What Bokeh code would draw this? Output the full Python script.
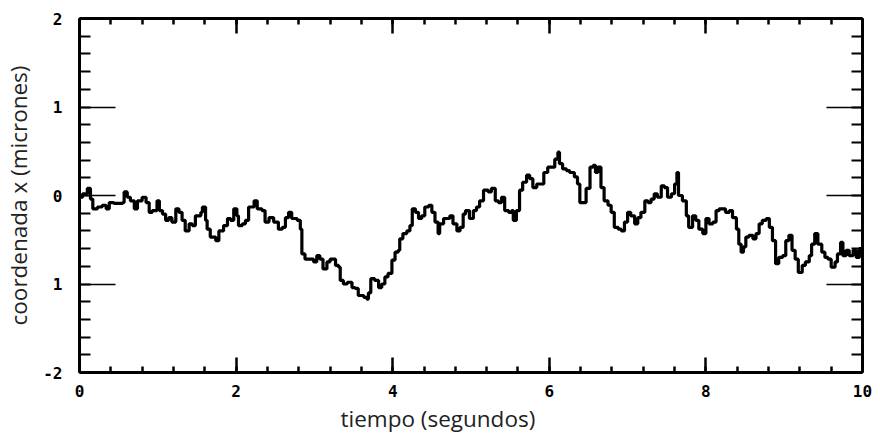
import math
from bokeh.plotting import figure
from bokeh.models import Range1d, LinearAxis, FixedTicker, Title, ColumnDataSource
from bokeh.embed import file_html
from bokeh.resources import INLINE

# time (s) and x coordinate (microns)
tiempo = [
    0.00, 0.04, 0.10, 0.14, 0.17, 0.23, 0.29, 0.34, 0.38, 0.44, 0.51, 0.55, 0.57, 0.61, 0.65, 0.70,
    0.74, 0.80, 0.85, 0.89, 0.93, 0.99, 1.02, 1.06, 1.10, 1.14, 1.18, 1.23, 1.27, 1.31, 1.35, 1.40,
    1.44, 1.48, 1.55, 1.57, 1.61, 1.63, 1.67, 1.74, 1.78, 1.84, 1.89, 1.93, 1.97, 2.01, 2.03, 2.08,
    2.12, 2.16, 2.23, 2.27, 2.33, 2.37,
    2.42, 2.48, 2.54, 2.59, 2.63, 2.67, 2.71, 2.78, 2.82, 2.84, 2.88, 2.95, 2.99, 3.03, 3.07, 3.11,
    3.16, 3.20, 3.27, 3.31, 3.33, 3.37, 3.42, 3.48, 3.52, 3.56, 3.63, 3.67, 3.69, 3.72, 3.77, 3.82,
    3.86, 3.90, 3.94, 3.99, 4.03, 4.07, 4.09, 4.13, 4.18, 4.22, 4.25, 4.29, 4.33, 4.37, 4.41, 4.46,
    4.50, 4.54, 4.58, 4.60, 4.65, 4.69, 4.73, 4.77, 4.82, 4.86, 4.90,
    4.93, 4.98, 5.03, 5.07, 5.11, 5.16, 5.22, 5.26, 5.31, 5.35, 5.39, 5.43, 5.48, 5.52, 5.54, 5.58,
    5.62, 5.66, 5.71, 5.75, 5.79, 5.84, 5.90, 5.93, 5.98, 6.03, 6.07, 6.11, 6.13, 6.17, 6.22, 6.26,
    6.32, 6.36, 6.39, 6.43, 6.47, 6.52, 6.56, 6.59, 6.62, 6.66, 6.70, 6.75, 6.79, 6.83, 6.88, 6.92,
    6.96, 7.00, 7.04, 7.09, 7.13, 7.17, 7.22, 7.26, 7.30, 7.34,
    7.38, 7.43, 7.47, 7.51, 7.56, 7.60, 7.63, 7.65, 7.70, 7.75, 7.78, 7.83, 7.87, 7.91, 7.96, 8.00,
    8.04, 8.09, 8.13, 8.17, 8.22, 8.25, 8.30, 8.34, 8.39, 8.42, 8.45, 8.48, 8.51, 8.55, 8.60, 8.64,
    8.68, 8.72, 8.77, 8.81, 8.85, 8.89, 8.93, 8.98, 9.02, 9.06, 9.10, 9.14, 9.18, 9.23, 9.27, 9.32,
    9.35, 9.39, 9.43, 9.48, 9.52, 9.56, 9.60, 9.65, 9.68, 9.72, 9.75, 9.79, 9.83, 9.88, 9.92, 9.96,
    9.99,
]
coord_x = [
    -0.02, 0.02, 0.08, -0.04, -0.15, -0.13, -0.11, -0.15, -0.08, -0.09, -0.09, -0.08, 0.04, -0.02, -0.06, -0.15,
    -0.06, -0.02, -0.08, -0.19, -0.17, -0.06, -0.17, -0.21, -0.28, -0.25, -0.30, -0.15, -0.19, -0.28, -0.40, -0.32,
    -0.34, -0.23, -0.19, -0.13, -0.28, -0.38, -0.47, -0.51, -0.40, -0.34, -0.26, -0.28, -0.15, -0.23, -0.34, -0.32,
    -0.28, -0.13, -0.06, -0.15, -0.17, -0.30,
    -0.25, -0.30, -0.38, -0.36, -0.25, -0.19, -0.26, -0.28, -0.38, -0.66, -0.72, -0.72, -0.75, -0.68, -0.72, -0.83,
    -0.75, -0.72, -0.79, -0.81, -0.96, -1.00, -0.98, -1.04, -1.05, -1.13, -1.15, -1.17, -1.10, -0.94, -0.96, -1.04,
    -1.00, -0.92, -0.88, -0.73, -0.64, -0.62, -0.49, -0.43, -0.40, -0.34, -0.15, -0.19, -0.26, -0.23, -0.13, -0.11,
    -0.19, -0.30, -0.43, -0.32, -0.26, -0.26, -0.23, -0.32, -0.40, -0.36, -0.21,
    -0.17, -0.26, -0.17, -0.13, -0.06, 0.06, 0.04, 0.08, -0.06, -0.08, -0.02, -0.17, -0.19, -0.17, -0.28, -0.17,
    0.06, 0.15, 0.23, 0.19, 0.09, 0.13, 0.13, 0.26, 0.32, 0.32, 0.41, 0.49, 0.36, 0.30, 0.28, 0.26,
    0.21, 0.13, -0.08, -0.08, 0.08, 0.32, 0.34, 0.26, 0.32, 0.09, -0.06, -0.11, -0.19, -0.36, -0.38, -0.40,
    -0.30, -0.19, -0.23, -0.32, -0.25, -0.19, -0.06, -0.08, -0.04, 0.02,
    -0.02, 0.11, 0.09, -0.02, 0.02, 0.13, 0.26, 0.00, -0.06, -0.23, -0.36, -0.23, -0.28, -0.38, -0.43, -0.26,
    -0.32, -0.30, -0.17, -0.15, -0.15, -0.19, -0.17, -0.25, -0.38, -0.55, -0.64, -0.58, -0.47, -0.45, -0.49, -0.43,
    -0.32, -0.28, -0.26, -0.36, -0.51, -0.77, -0.70, -0.68, -0.51, -0.45, -0.62, -0.72, -0.87, -0.79, -0.75, -0.68,
    -0.55, -0.43, -0.55, -0.64, -0.70, -0.72, -0.81, -0.75, -0.66, -0.53, -0.68, -0.62, -0.68, -0.62, -0.70, -0.60,
    -0.66,
]

x_major = [0, 2, 4, 6, 8, 10]
x_minor = [round(i * 0.4, 1) for i in range(26)]
y_major = [-2, -1, 0, 1, 2]
y_minor = [round(-2 + i * 0.2, 1) for i in range(21)]
y_tick_text = {-2: "-2", -1: "1", 0: "0", 1: "1", 2: "2"}
x_title = "tiempo (segundos)"
y_title = "coordenada x (micrones)"

p = figure(width=880, height=439, output_backend="svg", toolbar_location=None,
           x_range=Range1d(0, 10), y_range=Range1d(-2, 2),
           x_axis_location=None, y_axis_location=None,
           min_border_left=77, min_border_right=18, min_border_top=18, min_border_bottom=67)
p.outline_line_color = None
p.grid.visible = False
p.background_fill_color = "white"
p.border_fill_color = "white"

src = ColumnDataSource(dict(t=tiempo, x=coord_x))
p.step("t", "x", source=src, mode="after", line_width=3.2, line_color="black")

label_font = "DejaVu Sans Mono"

def make_axis(kind, show_labels):
    if kind == "x":
        ax = LinearAxis(ticker=FixedTicker(ticks=x_major, minor_ticks=x_minor))
        ax.major_tick_in = 15
        ax.minor_tick_in = 6
        ax.major_tick_line_width = 2.5
        ax.minor_tick_line_width = 2.5
        ax.major_label_overrides = {t: (str(t) if show_labels else "") for t in x_major}
        ax.major_label_standoff = 12
    else:
        ax = LinearAxis(ticker=FixedTicker(ticks=y_major, minor_ticks=y_minor))
        ax.major_tick_in = 36
        ax.minor_tick_in = 11
        ax.major_tick_line_width = 1.5
        ax.minor_tick_line_width = 2
        ax.major_label_overrides = {t: (y_tick_text[t] if show_labels else "") for t in y_major}
        ax.major_label_standoff = 17
    ax.major_tick_out = 0
    ax.minor_tick_out = 0
    ax.axis_line_width = 3
    ax.axis_line_color = "black"
    ax.major_tick_line_color = "black"
    ax.minor_tick_line_color = "black"
    ax.major_label_text_font = label_font
    ax.major_label_text_font_style = "bold"
    ax.major_label_text_font_size = "16px"
    ax.major_label_text_color = "black"
    return ax

xb = make_axis("x", True)
yl = make_axis("y", True)
yl.axis_label = y_title
yl.axis_label_text_font = "Open Sans"
yl.axis_label_text_font_size = "22.5px"
yl.axis_label_text_font_style = "normal"
yl.axis_label_text_color = "#222222"
yl.axis_label_standoff = 6

p.add_layout(xb, "below")
p.add_layout(make_axis("x", False), "above")
p.add_layout(yl, "left")
p.add_layout(make_axis("y", False), "right")

p.add_layout(Title(text=x_title, align="left", offset=261, standoff=2,
                   text_font="Open Sans", text_font_size="22.5px", text_font_style="normal",
                   text_color="#222222"), "below")

open("out.html", "w").write(file_html(p, INLINE))
